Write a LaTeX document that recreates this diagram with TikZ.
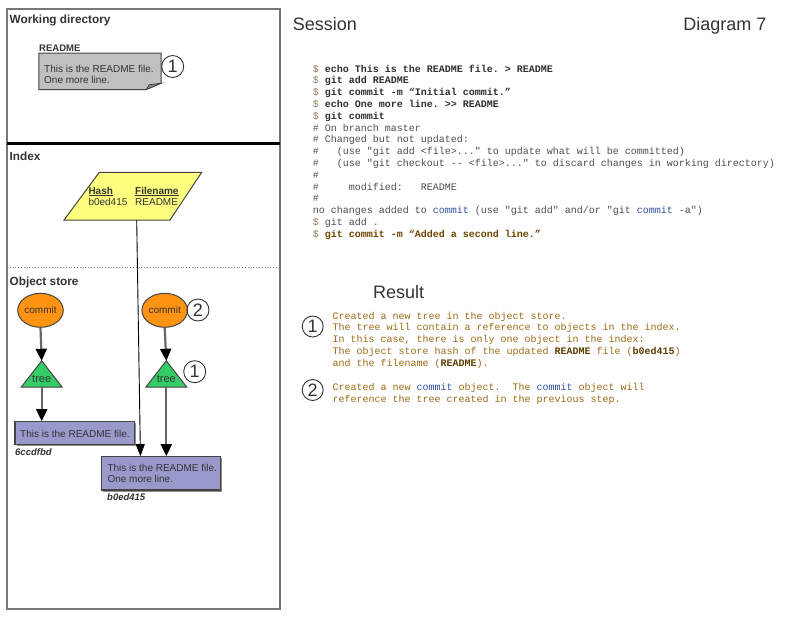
\documentclass[tikz,border=0pt]{standalone}
\usepackage{fontspec}
\setmainfont{Liberation Sans}
\setmonofont{Liberation Mono}
\usetikzlibrary{arrows.meta,shapes.geometric,shadows}
\frenchspacing
\definecolor{dollarc}{HTML}{8C7A5B}
\definecolor{cmdc}{HTML}{2E2E2E}
\definecolor{outc}{HTML}{4D4D4D}
\definecolor{bluec}{HTML}{2F4FA0}
\definecolor{lastc}{HTML}{6E4500}
\definecolor{resc}{HTML}{9A6A14}
\definecolor{resb}{HTML}{5E3C00}
\definecolor{panelc}{HTML}{777777}
\definecolor{notec}{HTML}{C0C0C0}
\definecolor{foldc}{HTML}{8A8A8A}
\definecolor{idxc}{HTML}{FFFF7F}
\definecolor{commitc}{HTML}{FF9412}
\definecolor{treec}{HTML}{33CC66}
\definecolor{blobc}{HTML}{9999CC}
\definecolor{inkc}{HTML}{333333}
\definecolor{edgec}{HTML}{444444}
\definecolor{connc}{HTML}{666666}
\newcommand{\mt}{\ttfamily\frenchspacing\fontsize{10}{11.8}\selectfont}
\newcommand{\dol}{\textcolor{dollarc}{\$}\ }
\begin{document}
\begin{tikzpicture}[x=1pt,y=-1pt,
  sess/.style={anchor=base west, inner sep=0, font=\mt},
  resline/.style={anchor=base west, inner sep=0, font=\mt, text=resc},
  lbl/.style={anchor=base west, inner sep=0, font=\fontsize{11.8}{14}\selectfont\bfseries, text=inkc},
  small/.style={anchor=base west, inner sep=0, font=\fontsize{10}{11}\selectfont, text=inkc},
  hashl/.style={anchor=base west, inner sep=0, font=\fontsize{9.5}{11}\selectfont\bfseries\itshape, text=inkc},
  head/.style={anchor=base west, inner sep=0, font=\fontsize{18}{20}\selectfont, text=inkc},
  num/.style={circle, draw=inkc, line width=0.9pt, minimum size=22pt, inner sep=0, font=\fontsize{18}{18}\selectfont, text=inkc},
  commitnode/.style={ellipse, draw=edgec, line width=1pt, fill=commitc, minimum width=37.6pt, minimum height=34pt, inner sep=0, font=\fontsize{10}{11}\selectfont, text=inkc},
  treebox/.style={inner sep=0, minimum width=40.6pt, minimum height=26pt},
  treeshape/.style={fill=treec, draw=edgec, line width=1pt},
  blob/.style={rectangle, fill=blobc, draw=edgec, line width=1.1pt, inner sep=0, drop shadow={shadow xshift=1.5pt, shadow yshift=-1.5pt, fill=black, opacity=0.45}},
  conn/.style={draw=connc, line width=2.2pt, -{Triangle[length=12pt,width=11pt,color=black]}},
  thinconn/.style={draw=black, line width=0.9pt, -{Triangle[length=12pt,width=9pt,color=black]}}
]
\useasboundingbox (0,0) rectangle (800,618);

% left panel
\draw[panelc, line width=2pt] (7,9.5) rectangle (279.5,609);
\draw[black, line width=3pt] (7,143.5) -- (279.5,143.5);
\draw[gray, dotted, line width=0.8pt] (7,267.7) -- (279.5,267.7);

\node[lbl] (wdl) at (9.5,24) {Working directory};
\node[lbl] (ixl) at (9.5,160.7) {Index};
\node[lbl] (osl) at (9.5,285.7) {Object store};

% working directory note
\node[lbl, font=\fontsize{9.5}{11}\selectfont\bfseries] (readme) at (39,51.7) {README};
\node[inner sep=0, minimum width=122pt, minimum height=36pt] (note) at (100,71.3) {};
\draw[fill=notec, draw=edgec, line width=1pt] (note.north west) -- (note.north east) -- ([yshift=6.3pt]note.south east) -- ([xshift=-15pt]note.south east) -- (note.south west) -- cycle;
\draw[fill=foldc, draw=edgec, line width=0.8pt] ([xshift=-15pt]note.south east) -- ([xshift=-12pt,yshift=4.8pt]note.south east) -- ([yshift=6.3pt]note.south east) -- cycle;
\node[small] (note1) at (44,72.5) {This is the README file.};
\node[small] (note2) at (44,83) {One more line.};
\node[num] (n1) at (172.7,66.5) {1};

% index
\node[inner sep=0, minimum width=104pt, minimum height=47.7pt] (idx) at (136.7,196.15) {};
\draw[fill=idxc, draw=edgec, line width=1pt] (99.3,172.3) -- (201.7,172.3) -- (170,220) -- (64,220) -- cycle;
\node[small] (hh) at (88.3,194) {\textbf{\underline{Hash}}};
\node[small] (hf) at (135,194) {\textbf{\underline{Filename}}};
\node[small] (hv) at (88.3,205) {b0ed415};
\node[small] (fv) at (135,205) {README};

% object store
\node[commitnode] (c1) at (40.5,310.3) {commit};
\node[commitnode] (c2) at (164.7,310.3) {commit};
\node[num] (n2) at (198,310) {2};

\node[treebox] (t1) at (41.7,374) {};
\node[treebox] (t2) at (166.3,374) {};
\draw[treeshape] (t1.north) -- (t1.south east) -- (t1.south west) -- cycle;
\draw[treeshape] (t2.north) -- (t2.south east) -- (t2.south west) -- cycle;
\node[small, anchor=base, font=\fontsize{11}{12}\selectfont] (t1l) at (41.7,382.3) {tree};
\node[small, anchor=base, font=\fontsize{11}{12}\selectfont] (t2l) at (166.3,382.3) {tree};
\node[num] (n3) at (194.7,371.7) {1};

\node[blob, minimum width=119.3pt, minimum height=22.6pt] (b1) at (74.65,433) {};
\node[small] (b1t) at (20,437.7) {This is the README file.};
\node[hashl] (h1) at (15,455) {6ccdfbd};

\node[blob, minimum width=119pt, minimum height=33.3pt] (b2) at (161.2,473.35) {};
\node[small] (b2t1) at (107.3,471) {This is the README file.};
\node[small] (b2t2) at (107.3,482) {One more line.};
\node[hashl] (h2) at (107,500) {b0ed415};

% connectors
\draw[conn] (c1.south) -- (t1.north);
\draw[conn] (t1.south) -- (t1.south |- b1.north);
\draw[conn] (c2.south) -- (t2.north);
\draw[conn] (t2.south) -- (t2.south |- b2.north);
\draw[thinconn] (idx.south) -- ([xshift=39.3pt]b2.north west);

% headings
\node[head] (sess) at (292.7,30.7) {Session};
\node[head, anchor=base east] (diag) at (766.7,30.7) {Diagram 7};
\node[head] (res) at (373,298.3) {Result};

% session
\node[sess] (s1) at (312.7,72) {\dol\textcolor{cmdc}{\bfseries echo This is the README file. > README}};
\node[sess] (s2) at (312.7,83.8) {\dol\textcolor{cmdc}{\bfseries git add README}};
\node[sess] (s3) at (312.7,95.6) {\dol\textcolor{cmdc}{\bfseries git commit -m “Initial commit.”}};
\node[sess] (s4) at (312.7,107.4) {\dol\textcolor{cmdc}{\bfseries echo One more line. >> README}};
\node[sess] (s5) at (312.7,119.2) {\dol\textcolor{cmdc}{\bfseries git commit}};
\node[sess, text=outc] (s6) at (312.7,131) {\# On branch master};
\node[sess, text=outc] (s7) at (312.7,142.8) {\# Changed but not updated:};
\node[sess, text=outc] (s8) at (312.7,154.6) {\#\ \ \ (use "git add <file>..." to update what will be committed)};
\node[sess, text=outc] (s9) at (312.7,166.4) {\#\ \ \ (use "git checkout -{}- <file>..." to discard changes in working directory)};
\node[sess, text=outc] (s10) at (312.7,178.2) {\#};
\node[sess, text=outc] (s11) at (312.7,190) {\#\ \ \ \ \ modified:\ \ \ README};
\node[sess, text=outc] (s12) at (312.7,201.8) {\#};
\node[sess, text=outc] (s13) at (312.7,213.6) {no changes added to \textcolor{bluec}{commit} (use "git add" and/or "git \textcolor{bluec}{commit} -a")};
\node[sess] (s14) at (312.7,225.4) {\dol\textcolor{outc}{git add .}};
\node[sess] (s15) at (312.7,237.2) {\dol\textcolor{lastc}{\bfseries git commit -m “Added a second line.”}};

% result
\node[num, minimum size=21pt] (rn1) at (312.7,326.5) {1};
\node[num, minimum size=21pt] (rn2) at (312.7,390) {2};
\node[resline] (r1) at (332.3,319) {Created a new tree in the object store.};
\node[resline] (r2) at (332.3,330.8) {The tree will contain a reference to objects in the index.};
\node[resline] (r3) at (332.3,342.6) {In this case, there is only one object in the index:};
\node[resline] (r4) at (332.3,354.4) {The object store hash of the updated \textcolor{resb}{\bfseries README} file (\textcolor{resb}{\bfseries b0ed415})};
\node[resline] (r5) at (332.3,366.2) {and the filename (\textcolor{resb}{\bfseries README}).};
\node[resline] (r6) at (332.3,390.3) {Created a new \textcolor{bluec}{commit} object.\ \ The \textcolor{bluec}{commit} object will};
\node[resline] (r7) at (332.3,402.1) {reference the tree created in the previous step.};
\end{tikzpicture}
\end{document}
